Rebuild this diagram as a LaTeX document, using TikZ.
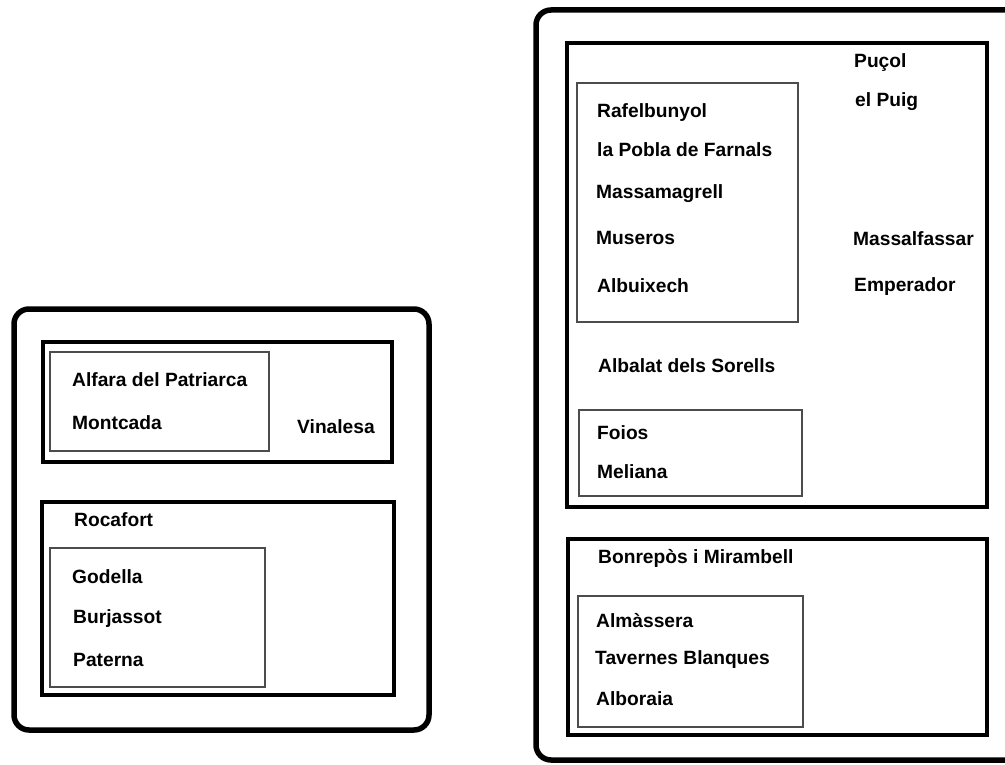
\documentclass[tikz,border=0pt]{standalone}
\usepackage{fontspec}
\setmainfont{Liberation Sans}
\begin{document}
\begin{tikzpicture}[x=1pt,y=-1pt,
  outerbox/.style={draw=black,line width=5.5pt,rounded corners=15pt},
  midbox/.style={draw=black,line width=3.6pt},
  innerbox/.style={draw=black!70,line width=1.4pt},
  town/.style={anchor=base west,inner sep=0pt,font=\bfseries\fontsize{19.2}{21}\selectfont}]
\useasboundingbox (0,0) rectangle (1005,765);
\clip (0,0) rectangle (1005,765);
% left group
\draw[outerbox] (14,309) rectangle (429,730);
\draw[midbox] (43,342) rectangle (392,462);
\draw[innerbox] (50,352) rectangle (269,451);
\draw[midbox] (42,502) rectangle (394,695);
\draw[innerbox] (50,548) rectangle (265,687);
\node[town] (alfara) at (72,386) {Alfara del Patriarca};
\node[town] (montcada) at (72,429) {Montcada};
\node[town] (vinalesa) at (297,433) {Vinalesa};
\node[town] (rocafort) at (74,526) {Rocafort};
\node[town] (godella) at (72,583) {Godella};
\node[town] (burjassot) at (73,623) {Burjassot};
\node[town] (paterna) at (73,666) {Paterna};
% right group
\draw[outerbox] (536,10) rectangle (1030,760);
\draw[midbox] (567,43) rectangle (987,507);
\draw[innerbox] (577,83) rectangle (798,322);
\draw[innerbox] (579,410) rectangle (802,496);
\draw[midbox] (568,539) rectangle (987,735);
\draw[innerbox] (578,596) rectangle (803,727);
\node[town] (pucol) at (854,68) {Puçol};
\node[town] (elpuig) at (855,107) {el Puig};
\node[town] (rafel) at (597,118) {Rafelbunyol};
\node[town] (pobla) at (597,157) {la Pobla de Farnals};
\node[town] (massamagrell) at (596,199) {Massamagrell};
\node[town] (museros) at (596,244) {Museros};
\node[town] (albuixech) at (597,292) {Albuixech};
\node[town] (massalfassar) at (853,245) {Massalfassar};
\node[town] (emperador) at (854,291) {Emperador};
\node[town] (albalat) at (598,372) {Albalat dels Sorells};
\node[town] (foios) at (597,439) {Foios};
\node[town] (meliana) at (597,478) {Meliana};
\node[town] (bonrepos) at (598,563) {Bonrepòs i Mirambell};
\node[town] (almassera) at (596,627) {Almàssera};
\node[town] (tavernes) at (595,664) {Tavernes Blanques};
\node[town] (alboraia) at (596,705) {Alboraia};
\end{tikzpicture}
\end{document}
